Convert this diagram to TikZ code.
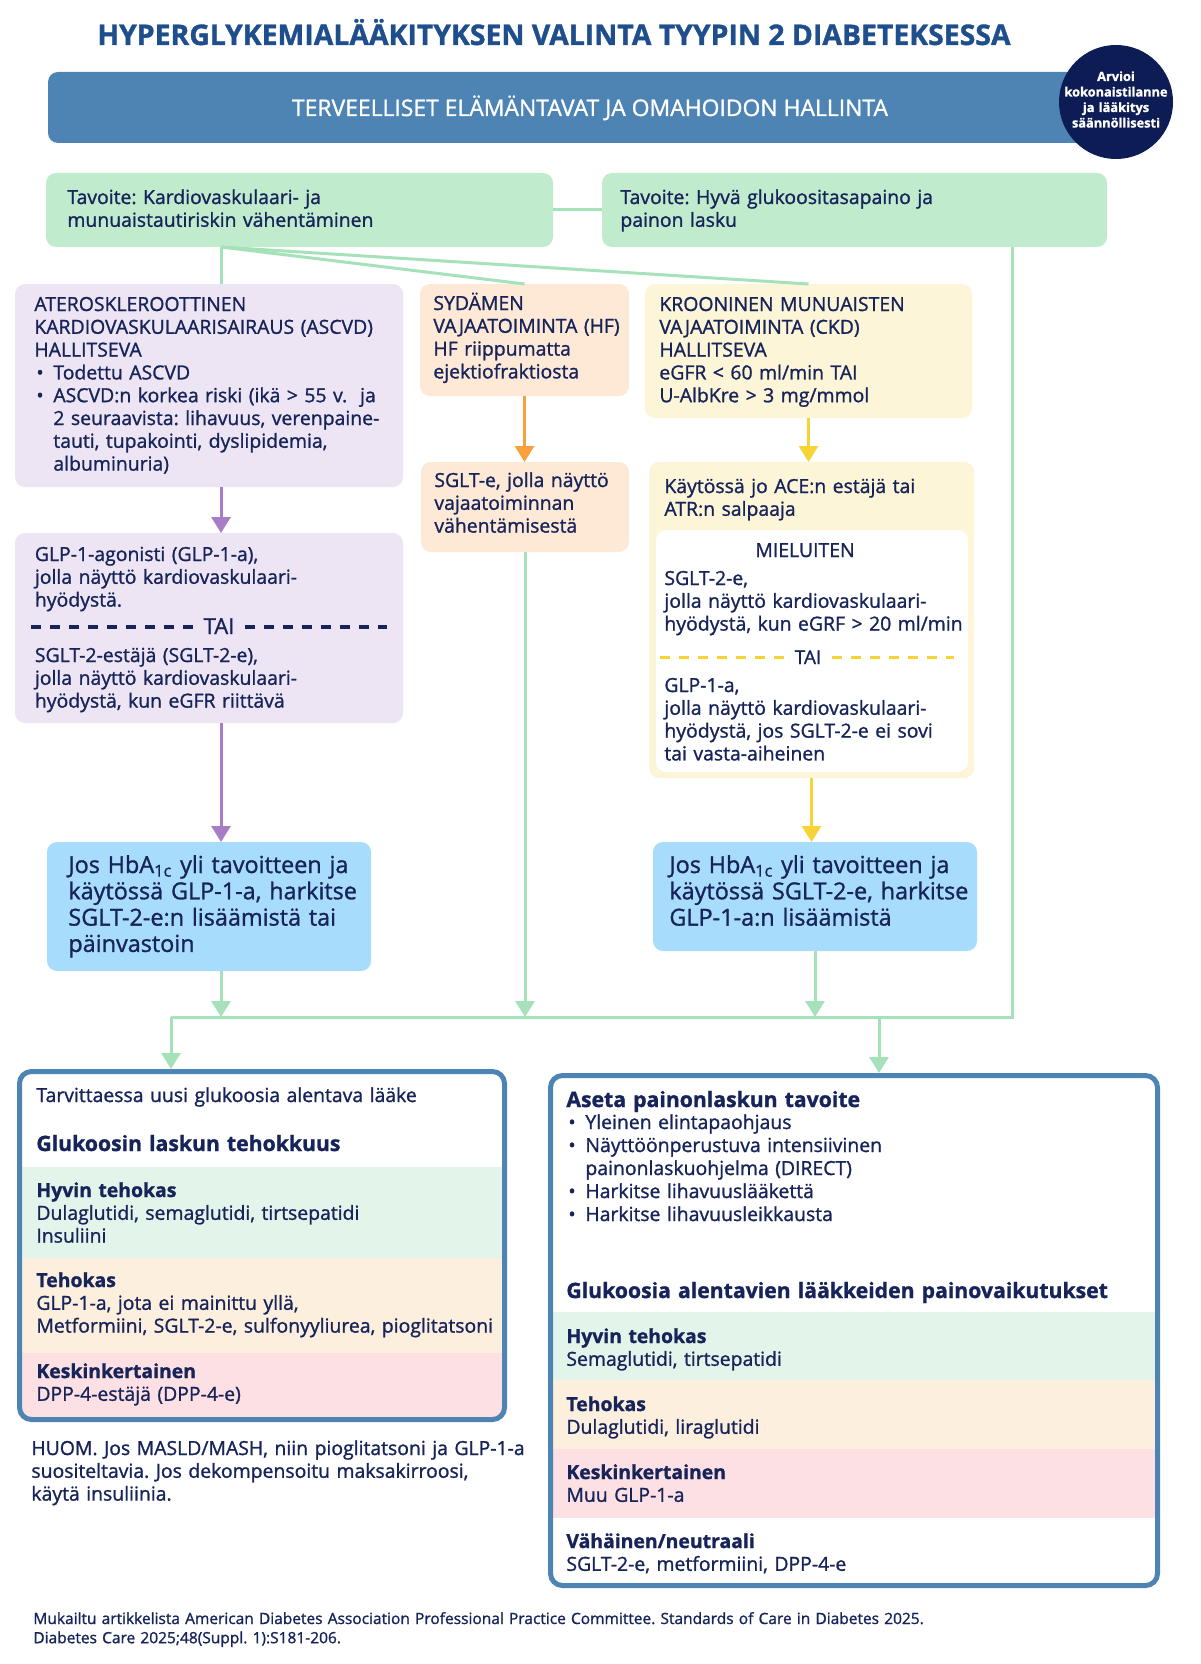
\documentclass[tikz,border=0pt]{standalone}
\usepackage{fontspec}
\setmainfont{Open Sans}[FakeBold=1.2]
\usepackage{xcolor}
\usetikzlibrary{arrows.meta}
\frenchspacing

\definecolor{txtnavy}{HTML}{17245A}
\definecolor{titleblue}{HTML}{1F4E8D}
\definecolor{bannerblue}{HTML}{4D84B4}
\definecolor{circnavy}{HTML}{0E1C55}
\definecolor{goalgreen}{HTML}{C0EBCD}
\definecolor{linegreen}{HTML}{A5E2BA}
\definecolor{lavender}{HTML}{EDE5F3}
\definecolor{arrpurple}{HTML}{A87DC8}
\definecolor{peach}{HTML}{FEE9D6}
\definecolor{arrorange}{HTML}{F8A03C}
\definecolor{cream}{HTML}{FDF5D7}
\definecolor{arryellow}{HTML}{F7D336}
\definecolor{skyblue}{HTML}{A8DCFC}
\definecolor{bandgreen}{HTML}{E3F5EA}
\definecolor{bandorange}{HTML}{FDEFDE}
\definecolor{bandpink}{HTML}{FDE0E3}

\newcommand{\bodyfont}{\fontsize{9.7pt}{11.4pt}\selectfont}
\newcommand{\hbafont}{\fontsize{11.7pt}{13.15pt}\selectfont}
\newcommand{\headfont}{\fontsize{10.6pt}{12pt}\selectfont\bfseries}
\newcommand{\notefont}{\fontsize{7.75pt}{9.6pt}\selectfont}
\newcommand{\bul}{\makebox[9.5pt][l]{\hspace{1pt}•}}
\newcommand{\ind}{\hspace*{9.5pt}}

\tikzstyle{box} = [rectangle, rounded corners=5pt, inner sep=0pt, outer sep=0pt, anchor=north west]
\tikzstyle{txt} = [font=\bodyfont, text=txtnavy, inner sep=0pt, anchor=base west, align=left, text width=400pt]
\tikzstyle{conn} = [linegreen, line width=1.5pt]
\tikzstyle{arrow} = [line width=1.5pt, -{Triangle[width=9.5pt, length=8pt]}]
\tikzstyle{taidash} = [line width=2pt, dash pattern=on 5pt off 4.5pt]
\tikzstyle{outline} = [rectangle, rounded corners=6pt, draw=bannerblue, line width=2.5pt, inner sep=0pt, anchor=north west]

\begin{document}
\begin{tikzpicture}[x=0.5pt, y=-0.5pt]
\useasboundingbox[fill=white] (0,0) rectangle (1200,1664);
% otsikko ja yläpalkki
\node (title) [anchor=base, inner sep=0pt, text=titleblue, font=\fontsize{14.2pt}{16pt}\selectfont\bfseries] at (554,45) {HYPERGLYKEMIALÄÄKITYKSEN VALINTA TYYPIN 2 DIABETEKSESSA};
\node (banner) [box, fill=bannerblue, minimum width=541pt, minimum height=35.5pt] at (48,72) {};
\node (bannertxt) [anchor=base, inner sep=0pt, text=white, font=\fontsize{11.45pt}{13pt}\selectfont] at (590,116) {TERVEELLISET ELÄMÄNTAVAT JA OMAHOIDON HALLINTA};
\node (review) [circle, fill=circnavy, minimum size=57pt, inner sep=0pt] at (1116,102) {};
\node (reviewtxt) [anchor=base, inner sep=0pt, text=white, align=center, text width=60pt, font=\fontsize{6.4pt}{7.75pt}\selectfont\bfseries] at (1116,81) {Arvioi\\kokonaistilanne\\ja lääkitys\\säännöllisesti};

% tavoitteet
\node (goalcv) [box, fill=goalgreen, minimum width=253.5pt, minimum height=37pt] at (46,173) {};
\node (goalgl) [box, fill=goalgreen, minimum width=252.5pt, minimum height=37pt] at (602,173) {};
\node (goalcvtxt) [txt] at (67,204) {Tavoite: Kardiovaskulaari- ja\\munuaistautiriskin vähentäminen};
\node (goalgltxt) [txt] at (620,204) {Tavoite: Hyvä glukoositasapaino ja\\painon lasku};
\draw [conn] (goalcv.east) -- (goalgl.west);

% sairausryhmät
\node (ascvd) [box, fill=lavender, minimum width=194pt, minimum height=101.5pt] at (15,284) {};
\node (hf) [box, fill=peach, minimum width=104.5pt, minimum height=56pt] at (420,284) {};
\node (ckd) [box, fill=cream, minimum width=163.5pt, minimum height=67pt] at (645,284) {};
\node (ascvdtxt) [txt] at (34,311) {ATEROSKLEROOTTINEN\\KARDIOVASKULAARISAIRAUS (ASCVD)\\HALLITSEVA\\\bul Todettu ASCVD\\\bul ASCVD:n korkea riski (ikä > 55 v.\ \ ja\\\ind 2 seuraavista: lihavuus, verenpaine-\\\ind tauti, tupakointi, dyslipidemia,\\\ind albuminuria)};
\node (hftxt) [txt] at (433,310) {SYDÄMEN\\VAJAATOIMINTA (HF)\\HF riippumatta\\ejektiofraktiosta};
\node (ckdtxt) [txt] at (659,311) {KROONINEN MUNUAISTEN\\VAJAATOIMINTA (CKD)\\HALLITSEVA\\eGFR < 60 ml/min TAI\\U-AlbKre > 3 mg/mmol};
\coordinate (split) at (221,247);
\draw [conn] (split) -- (split |- ascvd.north);
\draw [conn] (split) -- (hf.north);
\draw [conn] (split) -- (ckd.north);

% ASCVD-haara
\node (glp) [box, fill=lavender, minimum width=194pt, minimum height=95pt] at (15,533) {};
\node (glptxt) [txt] at (34.5,561) {GLP-1-agonisti (GLP-1-a),\\jolla näyttö kardiovaskulaari-\\hyödystä.};
\node (taiA) [anchor=base, inner sep=0pt, inner xsep=5pt, text=txtnavy, font=\fontsize{11pt}{13pt}\selectfont] at (219,634) {TAI};
\coordinate (dashAL) at (31,627);
\coordinate (dashAR) at (387,627);
\draw [taidash, txtnavy] (dashAL) -- (dashAL -| taiA.west);
\draw [taidash, txtnavy] (dashAR -| taiA.east) -- (dashAR);
\node (sglttxt) [txt] at (34.5,662) {SGLT-2-estäjä (SGLT-2-e),\\jolla näyttö kardiovaskulaari-\\hyödystä, kun eGFR riittävä};
\draw [arrow, arrpurple] (split |- ascvd.south) -- (split |- glp.north);

% HF-haara
\node (sglte) [box, fill=peach, minimum width=104pt, minimum height=45pt] at (421,462) {};
\node (sgltetxt) [txt] at (434,487) {SGLT-e, jolla näyttö\\vajaatoiminnan\\vähentämisestä};
\draw [arrow, arrorange] (hf.south) -- (hf.south |- sglte.north);

% CKD-haara
\node (ckdtwo) [box, fill=cream, minimum width=162.5pt, minimum height=158pt] at (649,462) {};
\node (pref) [box, fill=white, minimum width=156pt, minimum height=121pt] at (656,530) {};
\node (ckdtwotxt) [txt] at (664,493) {Käytössä jo ACE:n estäjä tai\\ATR:n salpaaja};
\node (preftitle) [anchor=base, inner sep=0pt, text=txtnavy, font=\bodyfont] at (805,557) {MIELUITEN};
\node (preftxtA) [txt] at (664,585) {SGLT-2-e,\\jolla näyttö kardiovaskulaari-\\hyödystä, kun eGRF > 20 ml/min};
\node (taiB) [anchor=base, inner sep=0pt, inner xsep=5pt, text=txtnavy, font=\fontsize{9.5pt}{11pt}\selectfont] at (808,664) {TAI};
\coordinate (dashBL) at (660,657);
\coordinate (dashBR) at (954,657);
\draw [taidash, arryellow, line width=1.5pt] (dashBL) -- (dashBL -| taiB.west);
\draw [taidash, arryellow, line width=1.5pt] (dashBR -| taiB.east) -- (dashBR);
\node (preftxtB) [txt] at (664,692) {GLP-1-a,\\jolla näyttö kardiovaskulaari-\\hyödystä, jos SGLT-2-e ei sovi\\tai vasta-aiheinen};
\draw [arrow, arryellow] (ckd.south) -- (ckd.south |- ckdtwo.north);

% HbA1c-laatikot
\node (hbaL) [box, fill=skyblue, minimum width=162pt, minimum height=64.5pt] at (47,842) {};
\node (hbaR) [box, fill=skyblue, minimum width=162pt, minimum height=54.5pt] at (653,842) {};
\node (hbaLtxt) [txt, font=\hbafont] at (68,873) {Jos HbA\textsubscript{1c} yli tavoitteen ja\\käytössä GLP-1-a, harkitse\\SGLT-2-e:n lisäämistä tai\\päinvastoin};
\node (hbaRtxt) [txt, font=\hbafont] at (669,873) {Jos HbA\textsubscript{1c} yli tavoitteen ja\\käytössä SGLT-2-e, harkitse\\GLP-1-a:n lisäämistä};
\draw [arrow, arrpurple] (split |- glp.south) -- (split |- hbaL.north);
\draw [arrow, arryellow] (ckdtwo.south) -- (ckdtwo.south |- hbaR.north);

% yhdistävät viivat
\coordinate (mergeR) at (1012,1017);
\coordinate (mergeL) at (171,1017);
\coordinate (branchR) at (879,1017);
\draw [conn] (goalgl.south -| mergeR) -- (mergeR) -- (mergeL);
\draw [arrow, linegreen] (split |- hbaL.south) -- (split |- mergeL);
\draw [arrow, linegreen] (sglte.south) -- (sglte.south |- mergeL);
\draw [arrow, linegreen] (hbaR.south) -- (hbaR.south |- mergeL);

% tehokkuus
\fill [bandgreen] (22,1167) rectangle (502,1258);
\fill [bandorange] (22,1258) rectangle (502,1353);
\fill [bandpink] (22,1353) rectangle (502,1417);
\node (effbox) [outline, minimum width=242.5pt, minimum height=174pt] at (17,1069) {};
\node (efftxt) [txt] at (36,1102) {Tarvittaessa uusi glukoosia alentava lääke};
\node (effhead) [txt, font=\headfont] at (36,1151) {Glukoosin laskun tehokkuus};
\node (effhigh) [txt] at (36,1197) {\textbf{Hyvin tehokas}\\Dulaglutidi, semaglutidi, tirtsepatidi\\Insuliini};
\node (effmid) [txt] at (36,1287) {\textbf{Tehokas}\\GLP-1-a, jota ei mainittu yllä,\\Metformiini, SGLT-2-e, sulfonyyliurea, pioglitatsoni};
\node (efflow) [txt] at (36,1378) {\textbf{Keskinkertainen}\\DPP-4-estäjä (DPP-4-e)};
\node (note) [txt] at (31,1455) {HUOM. Jos MASLD/MASH, niin pioglitatsoni ja GLP-1-a\\suositeltavia. Jos dekompensoitu maksakirroosi,\\käytä insuliinia.};
\draw [arrow, linegreen] (mergeL) -- (mergeL |- effbox.north);

% painovaikutukset
\fill [bandgreen] (553,1312) rectangle (1155,1380);
\fill [bandorange] (553,1380) rectangle (1155,1449);
\fill [bandpink] (553,1449) rectangle (1155,1518);
\node (wtbox) [outline, minimum width=303.5pt, minimum height=255pt] at (548,1073) {};
\node (wthead) [txt, font=\headfont] at (566,1107) {Aseta painonlaskun tavoite};
\node (wtlist) [txt, font=\fontsize{9.7pt}{11.5pt}\selectfont] at (566,1129) {\bul Yleinen elintapaohjaus\\\bul Näyttöönperustuva intensiivinen\\\ind painonlaskuohjelma (DIRECT)\\\bul Harkitse lihavuuslääkettä\\\bul Harkitse lihavuusleikkausta};
\node (wthead2) [txt, font=\headfont] at (566,1298) {Glukoosia alentavien lääkkeiden painovaikutukset};
\node (wthigh) [txt] at (566,1343) {\textbf{Hyvin tehokas}\\Semaglutidi, tirtsepatidi};
\node (wtmid) [txt] at (566,1411) {\textbf{Tehokas}\\Dulaglutidi, liraglutidi};
\node (wtlow) [txt] at (566,1479) {\textbf{Keskinkertainen}\\Muu GLP-1-a};
\node (wtnone) [txt] at (566,1548) {\textbf{Vähäinen/neutraali}\\SGLT-2-e, metformiini, DPP-4-e};
\draw [arrow, linegreen] (branchR) -- (branchR |- wtbox.north);

% lähde
\node (source) [txt, font=\notefont, text width=580pt] at (33,1624) {Mukailtu artikkelista American Diabetes Association Professional Practice Committee. Standards of Care in Diabetes 2025.\\Diabetes Care 2025;48(Suppl. 1):S181-206.};
\end{tikzpicture}
\end{document}
